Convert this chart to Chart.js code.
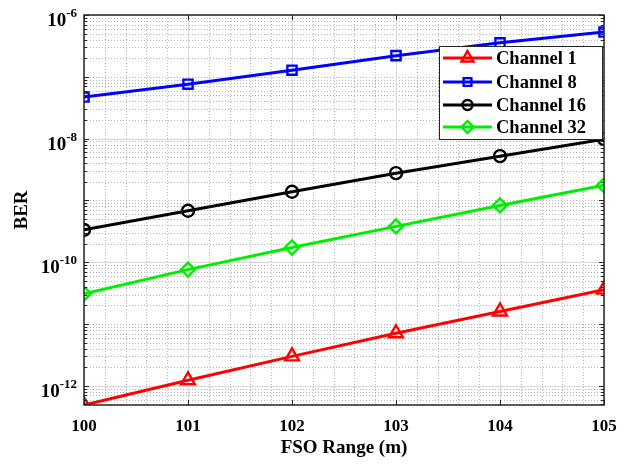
<!DOCTYPE html>
<html>
<head>
<meta charset="utf-8">
<script src="https://cdn.jsdelivr.net/npm/chart.js@4.4.1/dist/chart.umd.min.js"></script>
<style>
  html, body { margin: 0; padding: 0; background: #fff; }
  #wrap { width: 625px; height: 465px; position: relative; }
</style>
</head>
<body>
<div id="wrap"><canvas id="myChart"></canvas></div>
<script>
  // Data
  var ranges = [100, 101, 102, 103, 104, 105];
  var channelNames = ['Channel 1', 'Channel 8', 'Channel 16', 'Channel 32'];
  var ber1 = [4.9e-13, 1.23e-12, 3.0e-12, 7.1e-12, 1.6e-11, 3.6e-11];
  var ber8 = [4.7e-8, 7.6e-8, 1.28e-7, 2.2e-7, 3.55e-7, 5.3e-7];
  var ber16 = [3.34e-10, 6.8e-10, 1.38e-9, 2.76e-9, 5.2e-9, 9.8e-9];
  var ber32 = [3.1e-11, 7.6e-11, 1.73e-10, 3.8e-10, 8.3e-10, 1.76e-9];
  var yTickExps = [-12, -10, -8, -6];
  var yMin = 4.9e-13, yMax = 1e-6;

  var FONT = '"Liberation Serif", "Times New Roman", serif';

  function pts(vals) {
    return ranges.map(function (r, i) { return { x: r, y: vals[i] }; });
  }

  var styles = [
    { color: '#ff0000', point: 'triangle', radius: 8 },
    { color: '#0000ff', point: 'rect', radius: 6.5 },
    { color: '#000000', point: 'circle', radius: 6 },
    { color: '#00ee00', point: 'rectRot', radius: 7 }
  ];
  var series = [ber1, ber8, ber16, ber32];

  var datasets = series.map(function (vals, i) {
    var s = styles[i];
    return {
      label: channelNames[i],
      data: pts(vals),
      borderColor: s.color,
      backgroundColor: s.color,
      borderWidth: 3,
      pointStyle: s.point,
      pointRadius: s.radius,
      pointBorderWidth: 2.4,
      pointBorderColor: s.color,
      pointBackgroundColor: 'rgba(0,0,0,0)',
      tension: 0
    };
  });

  // grid, box, tick marks, y labels and legend
  var matlabAxes = {
    id: 'matlabAxes',
    beforeDatasetsDraw: function (chart) {
      var ctx = chart.ctx, a = chart.chartArea;
      var xs = chart.scales.x, ys = chart.scales.y;
      ctx.save();
      ctx.lineWidth = 1;
      // minor dotted
      ctx.strokeStyle = '#b4b4b4';
      ctx.setLineDash([1, 2]);
      for (var v = 100; v <= 105.0001; v += 0.2) {
        var rv = Math.round(v * 10) / 10;
        if (Math.abs(rv - Math.round(rv)) < 1e-6) continue;
        var px = Math.round(xs.getPixelForValue(rv)) + 0.5;
        ctx.beginPath(); ctx.moveTo(px, a.top); ctx.lineTo(px, a.bottom); ctx.stroke();
      }
      for (var e = -13; e <= -6; e++) {
        for (var k = 1; k <= 9; k++) {
          var val = k * Math.pow(10, e);
          if (val < yMin || val > yMax) continue;
          if (k === 1 && yTickExps.indexOf(e) >= 0) continue;
          var py = Math.round(ys.getPixelForValue(val)) + 0.5;
          ctx.beginPath(); ctx.moveTo(a.left, py); ctx.lineTo(a.right, py); ctx.stroke();
        }
      }
      // major solid
      ctx.setLineDash([]);
      ctx.strokeStyle = '#d8d8d8';
      ranges.forEach(function (r) {
        var px = Math.round(xs.getPixelForValue(r)) + 0.5;
        ctx.beginPath(); ctx.moveTo(px, a.top); ctx.lineTo(px, a.bottom); ctx.stroke();
      });
      yTickExps.forEach(function (e) {
        var py = Math.round(ys.getPixelForValue(Math.pow(10, e))) + 0.5;
        ctx.beginPath(); ctx.moveTo(a.left, py); ctx.lineTo(a.right, py); ctx.stroke();
      });
      ctx.restore();
    },
    afterDraw: function (chart) {
      var ctx = chart.ctx, a = chart.chartArea;
      var xs = chart.scales.x, ys = chart.scales.y;
      ctx.save();
      // tick marks inside
      ctx.strokeStyle = '#262626';
      ctx.lineWidth = 1;
      ranges.forEach(function (r) {
        var px = Math.round(xs.getPixelForValue(r)) + 0.5;
        ctx.beginPath();
        ctx.moveTo(px, a.bottom); ctx.lineTo(px, a.bottom - 5);
        ctx.moveTo(px, a.top); ctx.lineTo(px, a.top + 5);
        ctx.stroke();
      });
      for (var e = -13; e <= -6; e++) {
        for (var k = 1; k <= 9; k++) {
          var val = k * Math.pow(10, e);
          if (val < yMin || val > yMax) continue;
          var len = (k === 1) ? 5 : 3;
          var py = Math.round(ys.getPixelForValue(val)) + 0.5;
          ctx.beginPath();
          ctx.moveTo(a.left, py); ctx.lineTo(a.left + len, py);
          ctx.moveTo(a.right, py); ctx.lineTo(a.right - len, py);
          ctx.stroke();
        }
      }
      // axes box
      ctx.lineWidth = 1.5;
      ctx.strokeStyle = '#262626';
      ctx.strokeRect(a.left, a.top, a.right - a.left, a.bottom - a.top);

      // y tick labels 10^n
      ctx.fillStyle = '#000';
      ctx.textBaseline = 'alphabetic';
      yTickExps.forEach(function (e) {
        var py = ys.getPixelForValue(Math.pow(10, e));
        var expTxt = '-' + Math.abs(e);
        ctx.font = 'bold 13px ' + FONT;
        var ew = ctx.measureText(expTxt).width;
        var right = a.left - 7;
        ctx.textAlign = 'left';
        ctx.fillText(expTxt, right - ew, py + 2);
        ctx.font = 'bold 19px ' + FONT;
        ctx.textAlign = 'right';
        ctx.fillText('10', right - ew, py + 11);
      });

      // legend
      var lx = 439, ly = 46, lw = 163, lh = 93;
      ctx.fillStyle = '#fff';
      ctx.fillRect(lx, ly, lw, lh);
      ctx.strokeStyle = '#262626';
      ctx.lineWidth = 1;
      ctx.strokeRect(lx + 0.5, ly + 0.5, lw, lh);
      var rows = [58, 82, 105, 127];
      chart.data.datasets.forEach(function (ds, i) {
        var y = rows[i];
        ctx.strokeStyle = ds.borderColor;
        ctx.lineWidth = 3;
        ctx.beginPath(); ctx.moveTo(443, y); ctx.lineTo(492, y); ctx.stroke();
        ctx.lineWidth = 2.4;
        ctx.fillStyle = 'rgba(0,0,0,0)';
        Chart.helpers.drawPoint(ctx, { pointStyle: ds.pointStyle, radius: ds.pointRadius - 1, rotation: 0, borderWidth: 2.4 }, 467.5, y);
        ctx.fillStyle = '#000';
        ctx.font = 'bold 18.5px ' + FONT;
        ctx.textAlign = 'left';
        ctx.textBaseline = 'middle';
        ctx.fillText(ds.label, 496, y + 1);
      });
      ctx.restore();
    }
  };

  var ctx = document.getElementById('myChart').getContext('2d');
  var chart = new Chart(ctx, {
    type: 'line',
    data: { datasets: datasets },
    options: {
      responsive: true,
      maintainAspectRatio: false,
      animation: false,
      layout: { padding: { left: 0, top: 15, right: 21, bottom: 0 } },
      plugins: { legend: { display: false }, tooltip: { enabled: false } },
      scales: {
        x: {
          type: 'linear',
          min: 100,
          max: 105,
          grid: { display: false, drawTicks: false, tickLength: 0 },
          border: { display: false },
          ticks: {
            stepSize: 1,
            padding: 11,
            color: '#000',
            font: { family: FONT, size: 17, weight: 'bold' }
          },
          title: {
            display: true,
            text: 'FSO Range (m)',
            color: '#000',
            font: { family: FONT, size: 19, weight: 'bold' },
            padding: { top: 0, bottom: 6 }
          },
          afterFit: function (s) { s.height = 60; s.paddingLeft = 0; s.paddingRight = 0; }
        },
        y: {
          type: 'logarithmic',
          min: yMin,
          max: yMax,
          grid: { display: false, drawTicks: false, tickLength: 0 },
          border: { display: false },
          ticks: { display: false },
          title: {
            display: true,
            text: 'BER',
            color: '#000',
            font: { family: FONT, size: 19, weight: 'bold' },
            padding: { top: 11, bottom: 0 }
          },
          afterFit: function (s) { s.width = 84; }
        }
      }
    },
    plugins: [matlabAxes]
  });
</script>
</body>
</html>
